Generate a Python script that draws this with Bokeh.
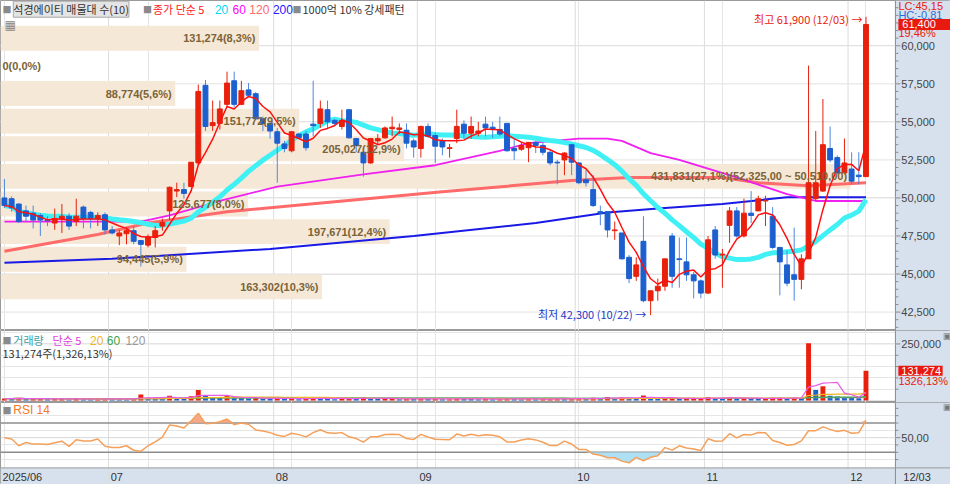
import numpy as np
import pandas as pd
from bokeh.plotting import figure
from bokeh.models import Range1d, Span, Label, ColumnDataSource, BoxAnnotation
from bokeh.layouts import column
from bokeh.embed import file_html
from bokeh.resources import INLINE
from bokeh.core.properties import value

# ---------------- data ----------------
holidays = ["2025-06-03", "2025-06-06", "2025-08-15", "2025-10-03", "2025-10-06",
            "2025-10-07", "2025-10-08", "2025-10-09"]
dates = pd.bdate_range("2025-06-10", "2025-12-03", freq="C", holidays=holidays)

opens = [50000, 49950, 49600, 49150, 49000, 48850, 48550, 48350, 48600, 48800,
         48450, 49400, 49050, 48650, 48900, 47900, 47500, 47650, 47850, 47200,
         46900, 47400, 48150, 49150, 50450, 50550, 50750, 52300, 57400, 54750,
         54900, 56150, 57700, 56150, 57100, 56850, 55200, 54900, 54350, 53550,
         53100, 54200, 54200, 54850, 54900, 55800, 55100, 54700, 55800, 53900,
         53000, 52300, 53750, 53950, 54550, 54500, 54450, 53750, 53250, 54700,
         54100, 53750, 53250, 53900, 54850, 54250, 54250, 54850, 54650, 54500,
         54900, 53250, 53200, 53300, 53650, 53450, 53000, 52350, 52500, 53500,
         52300, 51200, 50550, 49100, 49100, 47850, 47700, 46100, 44850, 47150,
         43250, 43900, 44200, 47500, 46000, 45800, 44950, 44550, 43750, 47900,
         46250, 48200, 49150, 47500, 49000, 49150, 49800, 48800, 46750, 45600,
         44950, 44650, 46000, 49950, 50450, 53250, 52650, 51650, 51900, 51500,
         51400]
highs = [51250, 50100, 49650, 49500, 49500, 49000, 48800, 49300, 49600, 49000,
         49950, 49500, 49150, 49050, 49050, 48150, 47900, 48050, 48150, 47200,
         47600, 48150, 48650, 50750, 51000, 51000, 52350, 57450, 57750, 56400,
         56400, 58300, 58300, 57700, 57550, 56950, 55350, 55000, 54600, 53750,
         54400, 54250, 54400, 57700, 56400, 56400, 55200, 55800, 55800, 53950,
         53100, 53900, 54200, 54700, 55350, 54900, 54900, 53900, 54750, 54900,
         54300, 53900, 53550, 55800, 55100, 55350, 55000, 55350, 55000, 55350,
         54900, 53900, 53650, 53650, 53750, 53650, 53100, 52500, 53000, 53550,
         52350, 51850, 51500, 49500, 49100, 48450, 47700, 46250, 46100, 48800,
         43900, 44700, 46000, 47700, 47400, 47400, 45150, 44650, 47500, 48150,
         46650, 49400, 49400, 49950, 50450, 50150, 50150, 49400, 46750, 46550,
         48050, 46300, 58700, 54400, 56500, 54700, 52800, 53900, 53000, 53000,
         61900]
lows = [49350, 49100, 48350, 48450, 48000, 47500, 48150, 47900, 47700, 47900,
        48150, 48000, 48000, 48150, 47600, 47600, 46900, 46950, 46950, 45500,
        46750, 46750, 47850, 48550, 50050, 49950, 50700, 52150, 54400, 54400,
        54500, 55950, 55950, 56100, 56600, 55150, 54400, 53900, 51000, 53000,
        53000, 53900, 53100, 54050, 54600, 54600, 54700, 54500, 53900, 53000,
        51400, 52250, 53550, 53900, 54050, 54200, 53250, 52650, 52650, 53950,
        52300, 52800, 52650, 53600, 53900, 53900, 54050, 54050, 53950, 54050,
        53050, 52500, 53100, 52350, 52950, 52800, 52150, 50900, 51500, 51500,
        50900, 50750, 49400, 48200, 47400, 47250, 45950, 44400, 44550, 43150,
        42300, 43250, 43900, 44100, 44100, 44550, 43400, 43400, 43700, 46000,
        44100, 47050, 47400, 47400, 48350, 49150, 48150, 46650, 43600, 44200,
        43250, 44000, 46000, 49800, 50400, 52350, 51550, 51550, 50900, 50900,
        51400]
closes = [49500, 49350, 48450, 48800, 48550, 48550, 48500, 48650, 48800, 48150,
          48800, 48650, 48650, 48850, 47900, 47700, 47700, 47850, 47150, 46950,
          47450, 47850, 48400, 50700, 50550, 50300, 52350, 57000, 54700, 54950,
          55850, 57550, 56150, 57050, 56750, 55200, 54900, 54400, 53600, 53250,
          54350, 53950, 53300, 54750, 55850, 55000, 54900, 55100, 53950, 53450,
          52300, 53900, 53900, 54600, 54650, 54600, 53600, 53350, 54700, 54050,
          53400, 53350, 53300, 54700, 54250, 54700, 54400, 54600, 54500, 54200,
          53100, 53100, 53450, 53650, 53450, 53000, 52300, 52300, 52950, 52350,
          51000, 51000, 49500, 49000, 47900, 47900, 46000, 44700, 45600, 43250,
          43900, 44200, 46000, 44850, 45950, 44950, 44550, 43750, 47250, 46250,
          46300, 49150, 47500, 49000, 48850, 49950, 49850, 46750, 45800, 44400,
          44650, 46000, 51000, 51000, 53500, 52500, 51650, 52300, 51100, 51400,
          61400]
volumes = [9000, 8000, 11000, 7000, 8000, 9000, 6000, 7000, 8000, 6000, 9000, 7000, 6000, 7000, 9000,
           8000, 7000, 6000, 9000, 27000, 12000, 10000, 9000,
           21000, 13000, 9000, 19000, 47000, 25000, 14000, 12000, 20000, 16000, 11000, 9000, 12000, 8000, 7000,
           14000, 8000, 9000, 6000, 8000, 15000, 10000, 9000, 6000, 7000, 11000, 8000, 15000, 10000, 7000,
           8000, 9000, 6000, 8000, 7000,
           10000, 7000, 8000, 6000, 6000, 11000, 8000, 7000, 6000, 7000, 6000, 7000, 9000, 8000, 6000, 7000,
           6000, 7000, 8000, 9000, 7000, 8000,
           9000, 7000, 12000, 10000, 16000, 9000, 14000, 13000, 10000, 22000, 14000, 9000, 11000, 12000,
           8000, 8000, 9000, 9000,
           16000, 10000, 9000, 14000, 10000, 11000, 9000, 8000, 8000, 12000, 13000, 10000, 12000, 9000,
           253000, 47000, 63000, 21000, 18000, 15000, 12000, 9899, 131274]

ma60_idx = [0, 19, 23, 30, 38, 50, 60, 69, 73, 80, 84, 86, 90, 94, 102, 109, 113, 120]
ma60_val = [48450, 48450, 48850, 49800, 50750, 51550, 52150, 53100, 53600, 53900, 53900, 53750,
            52950, 52500, 51350, 50250, 49800, 49800]
ma120_idx = [0, 13, 20, 31, 61, 79, 87, 100, 105, 112, 120]
ma120_val = [46500, 47600, 48350, 49100, 50400, 51150, 51350, 51350, 51000, 50800, 51000]
ma200_idx = [0, 15, 37, 57, 74, 84, 91, 100, 109, 120]
ma200_val = [45750, 46000, 46650, 47500, 48350, 49050, 49300, 49600, 50050, 50050]

band_volumes = [163302, 94445, 197671, 125677, 431831, 205027, 151772, 88774, 0, 131274]
band_pcts = [10.3, 5.9, 12.4, 8.0, 27.1, 12.9, 9.5, 5.6, 0.0, 8.3]

price_ticks = [42500, 45000, 47500, 50000, 52500, 55000, 57500, 60000]
price_minor = [t for t in range(41500, 62501, 500) if t not in price_ticks]
vol_ticks = [250000]
vol_minor = [50000, 100000, 150000, 200000]
rsi_ticks = [50]
rsi_minor = [20, 30, 40, 60, 70, 80, 90]

assert len(dates) == len(opens) == len(highs) == len(lows) == len(closes) == len(volumes) == 121

# ---------------- derived ----------------
n = len(closes)
idx = np.arange(n)
o = np.array(opens, float); h = np.array(highs, float)
l = np.array(lows, float); c = np.array(closes, float)
v = np.array(volumes, float)
cs = pd.Series(c)
ma5 = cs.rolling(5, min_periods=1).mean()
ma20 = cs.rolling(20, min_periods=1).mean()

d = cs.diff().fillna(0.0)
seed = d.abs().iloc[1:15].mean() / 2
ag = al = seed
rsi = []
for g, ls in zip(d.clip(lower=0), -d.clip(upper=0)):
    ag = (ag * 13 + g) / 14
    al = (al * 13 + ls) / 14
    rsi.append(100 * ag / (ag + al))
rsi = np.array(rsi)

vs = pd.Series(v)
vma = {k: vs.rolling(k, min_periods=1).mean() for k in (5, 20, 60, 120)}

months = [dt.month for dt in dates]
month_starts = [0] + [i for i in range(1, n) if months[i] != months[i - 1]]
month_labels = [dates[0].strftime("%Y/%m")] + [dates[i].strftime("%m") for i in month_starts[1:]]
bounds = [s - 0.5 for s in month_starts[1:]]

UP = "#e8200c"; DOWN = "#1c5fcf"; DOWN_WICK = "#4f88dc"
FONT_KR = "Noto Sans CJK KR"; FONT_NUM = "Liberation Sans"
AX_BG = "#d7e1ee"
W = 950
KX = 124.65 / 910.0            # index units per reference pixel
XR = (-0.55, -0.55 + 966 * KX)


def X(xref):
    return XR[0] + xref * KX


XS = X(910)                    # left edge of the axis strip


def lab(p, x, y, text, color="#333333", size="11px", font=FONT_KR, align="left",
        baseline="middle", style="normal", **kw):
    p.add_layout(Label(x=x, y=y, text=text, text_color=color, text_font_size=size,
                       text_font=font, text_align=align, text_baseline=baseline,
                       text_font_style=style, **kw))


def base_fig(height, yr, ticks, minor, fmt, grid=True):
    p = figure(width=W, height=height, x_range=Range1d(*XR), y_range=Range1d(*yr),
               x_axis_location=None, y_axis_location=None, toolbar_location=None,
               output_backend="svg", min_border=0)
    p.background_fill_color = "white"
    p.outline_line_color = "#9a9a9a"
    p.add_layout(BoxAnnotation(left=XS, fill_color=AX_BG, fill_alpha=1.0, line_color=None,
                               level="underlay"))
    return p


def add_axis(p, ticks, minor, fmt, grid=True):
    for b in bounds:
        p.add_layout(Span(location=b, dimension="height", line_color="#dcdcdc",
                          line_width=1, level="underlay"))
    p.add_layout(Span(location=XS, dimension="height", line_color="#8a8a8a", line_width=1,
                      level="underlay"))
    if grid:
        p.segment(x0=XR[0], x1=XS, y0=ticks, y1=ticks, line_color="#e2e2e2", line_width=1)
    p.segment(x0=XS, x1=XS + 5 * KX, y0=ticks, y1=ticks, line_color="#8a8a8a")
    p.segment(x0=XS, x1=XS + 3 * KX, y0=minor, y1=minor, line_color="#8a8a8a")
    p.text(x=X(916), y=ticks, text=[fmt(t) for t in ticks], text_font=value(FONT_NUM),
           text_font_size="11px", text_color="#444444", text_baseline="middle",
           text_align="left")


# ---------------- price panel ----------------
Y1R = (41290, 62975)


def Y1(yref):
    return Y1R[1] - yref * (Y1R[1] - Y1R[0]) / 341.0


p1 = base_fig(330, Y1R, price_ticks, price_minor, None)
add_axis(p1, price_ticks, price_minor, lambda t: f"{t:,}")

lo_c, hi_c = c.min(), c.max()
step = (hi_c - lo_c) / len(band_volumes)
vmax = max(band_volumes)
blen = 0.95 * 124.65
b_lo = np.array([lo_c + k * step for k in range(len(band_volumes))])
b_hi = b_lo + step
b_right = XR[0] + np.array(band_volumes) / vmax * blen
p1.quad(left=XR[0], right=b_right, bottom=b_lo + 0.05 * step, top=b_hi - 0.05 * step,
        fill_color="#f6e8d6", line_color=None)
for k in range(len(band_volumes)):
    t = f"{band_volumes[k]:,}(" + f"{band_pcts[k]:.1f}".replace(".", ",") + "%)"
    if band_volumes[k] == vmax:
        t += ("(" + f"{b_hi[k]:,.2f}".replace(".", ",") + " ~ "
              + f"{b_lo[k]:,.2f}".replace(".", ",") + ")")
    ymid = (b_lo[k] + b_hi[k]) / 2
    if band_volumes[k] == 0:
        lab(p1, X(2), ymid, t, color="#7a6338", font=FONT_NUM, style="bold")
    else:
        lab(p1, b_right[k] - 0.5, ymid, t, color="#7a6338", font=FONT_NUM, style="bold",
            align="right")

p1.line(ma200_idx, ma200_val, line_color="#1a1ae6", line_width=2)
p1.line(ma120_idx, ma120_val, line_color="#ff6a6a", line_width=3)
p1.line(ma60_idx, ma60_val, line_color="#f020f0", line_width=1.8)
p1.line(idx, ma20, line_color="#3ff0f5", line_width=5)

up = c >= o
top = np.maximum(o, c); bot = np.minimum(o, c)
mid = (top + bot) / 2
small = (top - bot) < 50
top = np.where(small, mid + 25, top); bot = np.where(small, mid - 25, bot)
src = ColumnDataSource(dict(x=idx, h=h, l=l, top=top, bot=bot,
                            col=np.where(up, UP, DOWN), wick=np.where(up, UP, DOWN_WICK)))
p1.segment(x0="x", y0="l", x1="x", y1="h", line_color="wick", line_width=1, source=src)
p1.vbar(x="x", width=0.68, top="top", bottom="bot", fill_color="col", line_color="col",
        source=src)
p1.line(idx, ma5, line_color="#ff1010", line_width=1.5)

# legend row
ly = Y1(9)
lab(p1, X(2), ly, "■", color="#8a8a8a", size="9px")
lab(p1, X(13), ly, "석경에이티 매물대 수(10)", color="#333333",
    background_fill_color="#e4e4e4", border_line_color="#a8a8a8")
lab(p1, X(145), ly, "■", color="#8a8a8a", size="9px")
lab(p1, X(155), ly, "종가 단순 5", color="#ff2020")
lab(p1, X(218), ly, "20", color="#00d8f0", font=FONT_NUM, size="12px")
lab(p1, X(236), ly, "60", color="#ff00ff", font=FONT_NUM, size="12px")
lab(p1, X(253), ly, "120", color="#ff6a6a", font=FONT_NUM, size="12px")
lab(p1, X(277), ly, "200", color="#2020ff", font=FONT_NUM, size="12px")
lab(p1, X(297), ly, "■", color="#8a8a8a", size="9px")
lab(p1, X(307), ly, "1000억 10% 강세패턴", color="#333333")
lab(p1, X(4), Y1(25), "▦", color="#8a8a8a", size="12px", font="DejaVu Sans")

hi_i = int(np.argmax(h)); lo_i = int(np.argmin(l))
lab(p1, hi_i - 0.5, h[hi_i] - 150,
    f"최고 {int(h[hi_i]):,} ({dates[hi_i].strftime('%m/%d')}) →", color="#e8200c",
    align="right")
lab(p1, lo_i - 0.6, l[lo_i] + 50,
    f"최저 {int(l[lo_i]):,} ({dates[lo_i].strftime('%m/%d')}) →", color="#2236c8",
    align="right")

last = c[-1]; prev = c[-2]
lc = (last / l.min() - 1) * 100
hc = (last / h.max() - 1) * 100
chg = (last / prev - 1) * 100
xr_lab = X(913)
lab(p1, xr_lab, Y1(6), "LC:" + f"{lc:.2f}".replace(".", ","), color="#e8200c",
    font=FONT_NUM, size="11px")
lab(p1, xr_lab, Y1(15), "HC:" + f"{hc:.2f}".replace(".", ","), color="#2a6ad8",
    font=FONT_NUM, size="11px")
p1.rect(x=(X(913) + XR[1]) / 2, y=last, width=XR[1] - X(913), height=11,
        height_units="screen", fill_color="#e8190e", line_color=None)
p1.text(x=X(917), y=[last], text=[f"{int(last):,}"], text_color="white",
        text_font=value(FONT_NUM), text_font_size="11px", text_baseline="middle")
lab(p1, xr_lab, Y1(34), f"{chg:.2f}".replace(".", ",") + "%", color="#e8200c",
    font=FONT_NUM, size="11px")

# ---------------- volume panel ----------------
Y2R = (-8475, 309322)


def Y2(yref):
    return Y2R[1] - (yref - 341) * (Y2R[1] - Y2R[0]) / 75.0


p2 = base_fig(72, Y2R, vol_ticks, vol_minor, None)
add_axis(p2, vol_ticks, vol_minor, lambda t: f"{t:,}")
vup = np.concatenate([[True], v[1:] >= v[:-1]])
p2.vbar(x=idx, width=0.68, top=v, bottom=0, fill_color=np.where(vup, UP, DOWN).tolist(),
        line_color=None)
p2.line(idx, vma[120], line_color="#a0a0a0", line_width=1.2)
p2.line(idx, vma[60], line_color="#3fa34d", line_width=1.2)
p2.line(idx, vma[20], line_color="#f0b428", line_width=1.2)
p2.line(idx, vma[5], line_color="#e85ce8", line_width=1.2)

vy = Y2(351)
lab(p2, X(2), vy, "■", color="#8a8a8a", size="9px")
lab(p2, X(13), vy, "거래량", color="#3aa0a6")
lab(p2, X(53), vy, "단순 5", color="#e040e0")
lab(p2, X(91), vy, "20", color="#f0b428", font=FONT_NUM, size="12px")
lab(p2, X(108), vy, "60", color="#3fa34d", font=FONT_NUM, size="12px")
lab(p2, X(127), vy, "120", color="#999999", font=FONT_NUM, size="12px")
vratio = v[-1] / v[-2] * 100
lab(p2, X(2), Y2(364), f"{int(v[-1]):,}주(" + f"{vratio:,.2f}".replace(".", "#")
    .replace("#", ",") + "%)", color="#333333")
p2.rect(x=(X(913) + X(958)) / 2, y=v[-1], width=X(958) - X(913), height=10,
        height_units="screen", fill_color="#e8190e", line_color=None)
p2.text(x=X(916), y=[v[-1]], text=[f"{int(v[-1]):,}"], text_color="white",
        text_font=value(FONT_NUM), text_font_size="11px", text_baseline="middle")
lab(p2, xr_lab, Y2(394), f"{vratio:.2f}".replace(".", ",") + "%", color="#e8200c",
    font=FONT_NUM, size="11px")
lab(p2, X(958), Y2(347), "▣", color="#777777", size="9px", font="DejaVu Sans")

# ---------------- RSI panel ----------------
Y3R = (-14.0, 98.0)


def Y3(yref):
    return Y3R[1] - (yref - 416) * (Y3R[1] - Y3R[0]) / 84.0


p3 = base_fig(82, Y3R, rsi_ticks, rsi_minor, None)
band_top = Y3(483)
p3.add_layout(BoxAnnotation(top=band_top, fill_color=AX_BG, fill_alpha=1.0, line_color=None,
                            level="underlay"))
add_axis(p3, rsi_ticks, rsi_minor, lambda t: f"{t:.2f}".replace(".", ","), grid=False)
p3.segment(x0=XR[0], x1=XS, y0=rsi_ticks, y1=rsi_ticks, line_color="#d8d8d8")
p3.segment(x0=XR[0], x1=XS, y0=[70, 30], y1=[70, 30], line_color="#8c8c8c", line_width=1.5)
p3.segment(x0=XR[0], x1=XR[1], y0=band_top, y1=band_top, line_color="#9a9a9a", line_width=1)
p3.varea(x=idx, y1=70, y2=np.maximum(rsi, 70), fill_color="#f2a27a", fill_alpha=0.9)
p3.varea(x=idx, y1=np.minimum(rsi, 30), y2=30, fill_color="#a6dcf2", fill_alpha=0.9)
p3.line(idx, rsi, line_color="#f5a05a", line_width=1.5)
lab(p3, X(2), Y3(424), "■", color="#8a8a8a", size="9px")
lab(p3, X(13), Y3(424), "RSI 14", color="#f07828", font=FONT_NUM, size="12px")
lab(p3, X(958), Y3(421), "▣", color="#777777", size="9px", font="DejaVu Sans")

ay = Y3(492)
for k, s in enumerate(month_starts):
    xs = X(2) if s == 0 else s - 0.5 + 0.3
    lab(p3, xs, ay, month_labels[k], color="#333333", font=FONT_NUM, size="11px")
lab(p3, X(918), ay, dates[-1].strftime("%m/%d"), color="#333333", font=FONT_NUM, size="11px")

layout = column(p1, p2, p3, spacing=0)
open("out.html", "w").write(file_html(layout, INLINE))
